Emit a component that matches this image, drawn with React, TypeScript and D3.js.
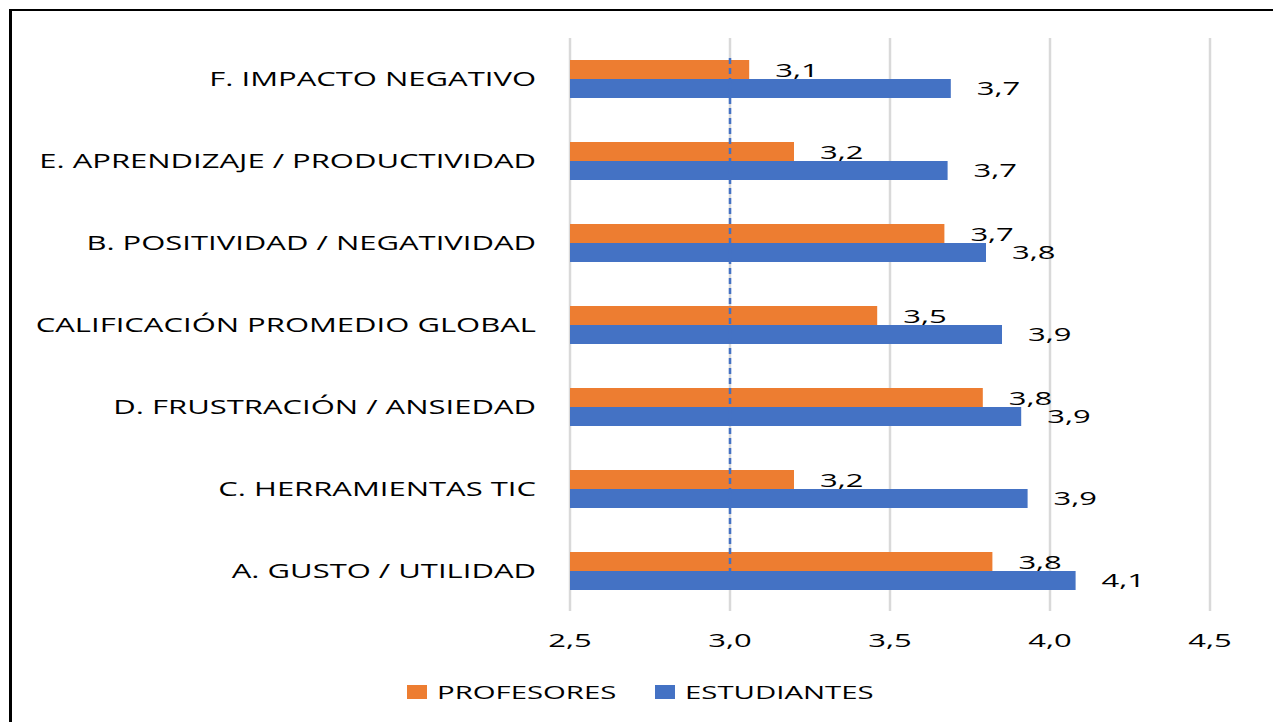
import React from "react";
import * as d3 from "d3";

const categories = [
  "F. IMPACTO NEGATIVO",
  "E. APRENDIZAJE / PRODUCTIVIDAD",
  "B. POSITIVIDAD / NEGATIVIDAD",
  "CALIFICACIÓN PROMEDIO GLOBAL",
  "D. FRUSTRACIÓN / ANSIEDAD",
  "C. HERRAMIENTAS TIC",
  "A. GUSTO / UTILIDAD",
];
const profesores = [3.06, 3.2, 3.67, 3.46, 3.79, 3.2, 3.82];
const estudiantes = [3.69, 3.68, 3.8, 3.85, 3.91, 3.93, 4.08];
const xTicks = [2.5, 3.0, 3.5, 4.0, 4.5];
const seriesNames = ["PROFESORES", "ESTUDIANTES"];
const seriesColors = ["#ed7d31", "#4472c4"];
const referenceValue = 3.0;

const W = 1273;
const H = 722;
const FONT = "'Open Sans', sans-serif";
const SX_CAT = 1.55;
const SX_NUM = 1.63;

const fmt = (v: number) => d3.format(".1f")(v).replace(".", ",");

export default function App() {
  const x = d3.scaleLinear().domain([2.5, 4.5]).range([570, 1210]);
  const y = d3.scaleBand<string>().domain(categories).range([38, 612]).paddingInner(0.5366).paddingOuter(0.2683);
  const inner = d3.scaleBand<string>().domain(seriesNames).range([0, y.bandwidth()]);
  const series = [profesores, estudiantes];

  return (
    <svg width={W} height={H} style={{ position: "absolute", left: 0, top: 0, display: "block", background: "#fff" }}>
      <rect x={0} y={0} width={W} height={H} fill="#fff" />
      <line x1={10.5} x2={10.5} y1={9} y2={H + 5} stroke="#000" strokeWidth={3} />
      <line x1={9} x2={W + 5} y1={10} y2={10} stroke="#000" strokeWidth={2} />

      {xTicks.map((t) => (
        <line key={"g" + t} x1={x(t)} x2={x(t)} y1={38} y2={611} stroke="#d9d9d9" strokeWidth={2.5} />
      ))}

      {categories.map((c, i) =>
        series.map((s, si) => (
          <rect
            key={c + si}
            x={x(2.5)}
            y={(y(c) ?? 0) + (inner(seriesNames[si]) ?? 0)}
            width={x(s[i]) - x(2.5)}
            height={inner.bandwidth()}
            fill={seriesColors[si]}
          />
        ))
      )}

      <line
        x1={x(referenceValue)}
        x2={x(referenceValue)}
        y1={(y(categories[0]) ?? 0) - 2}
        y2={(y(categories[categories.length - 1]) ?? 0) + inner.bandwidth()}
        stroke="#4472c4"
        strokeWidth={2.5}
        strokeDasharray="6,4"
      />

      {categories.map((c, i) =>
        series.map((s, si) => {
          const cy = (y(c) ?? 0) + (inner(seriesNames[si]) ?? 0) + inner.bandwidth() / 2;
          return (
            <text
              key={"l" + c + si}
              transform={`translate(${x(s[i]) + 26},${cy + 7}) scale(${SX_NUM},1)`}
              fontFamily={FONT}
              fontSize={19}
              fill="#000"
            >
              {fmt(s[i])}
            </text>
          );
        })
      )}

      {categories.map((c) => (
        <text
          key={"c" + c}
          transform={`translate(536,${(y(c) ?? 0) + y.bandwidth() / 2 + 7}) scale(${SX_CAT},1)`}
          textAnchor="end"
          fontFamily={FONT}
          fontSize={20}
          fill="#000"
        >
          {c}
        </text>
      ))}

      {xTicks.map((t) => (
        <text
          key={"t" + t}
          transform={`translate(${x(t)},647) scale(${SX_NUM},1)`}
          textAnchor="middle"
          fontFamily={FONT}
          fontSize={19}
          fill="#000"
        >
          {fmt(t)}
        </text>
      ))}

      {seriesNames.map((n, i) => {
        const lx = [407, 655][i];
        return (
          <g key={"lg" + n}>
            <rect x={lx} y={685} width={20} height={14} fill={seriesColors[i]} />
            <text
              transform={`translate(${lx + 30},699) scale(${SX_NUM},1)`}
              fontFamily={FONT}
              fontSize={18}
              fill="#000"
            >
              {n}
            </text>
          </g>
        );
      })}
    </svg>
  );
}
